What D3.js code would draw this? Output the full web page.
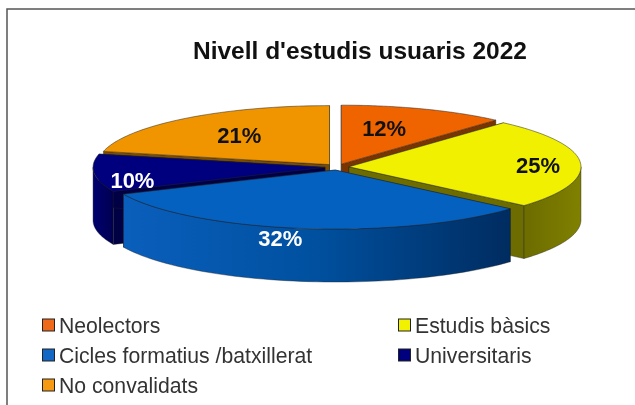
<!DOCTYPE html>
<html>
<head>
<meta charset="utf-8">
<script src="https://d3js.org/d3.v7.min.js"></script>
<style>
	html, body { margin: 0; padding: 0; background: #fff; }
	svg { display: block; filter: blur(0.4px); }
	text { font-family: "Liberation Sans", Arial, sans-serif; }
</style>
</head>
<body>
<div id="chart-area"></div>
<script>
var categories = ["Neolectors", "Estudis bàsics", "Cicles formatius /batxillerat", "Universitaris", "No convalidats"];
// slice shares as they measure on the picture, the printed labels are rounded
var values = [11.6, 24.8, 31.9, 10.3, 21.4];
var labels = ["12%", "25%", "32%", "10%", "21%"];
var title = "Nivell d'estudis usuaris 2022";

var topColors = ["#f06400", "#f0f000", "#0561c0", "#00007e", "#f09400"];
var wallColors = ["#7a3400", "#6c6c00", "#002f68", "#000044", "#7a4c00"];
var labelColors = ["#111", "#111", "#fff", "#fff", "#111"];
var swatchColors = ["#ee6a1a", "#f2f200", "#1268c4", "#00007e", "#f59a12"];
// label nudge from the slice centroid
var labelNudge = [[-15, 3], [27, 1], [-31, 27], [-31, 9], [11, 3]];

var svg = d3.select("#chart-area").append("svg")
	.attr("width", 635)
	.attr("height", 405);

// chart frame, only top and left show
svg.append("path")
	.attr("d", d3.line()([[7, 405], [7, 9], [635, 9]]))
	.attr("fill", "none")
	.attr("stroke", "#555")
	.attr("stroke-width", 1.5);

svg.append("text")
	.attr("x", 360)
	.attr("y", 59)
	.attr("text-anchor", "middle")
	.attr("font-size", 24.5)
	.attr("font-weight", "bold")
	.attr("fill", "#111")
	.text(title);

var cx = 337, cy = 167;
var rx = 232, ry = 59;
var depth = 53;
var explode = 12;

var defs = svg.append("defs");
function sideGradient(id, stops) {
	var g = defs.append("linearGradient").attr("id", id);
	stops.forEach((s) => {
		g.append("stop").attr("offset", s[0]).attr("stop-color", s[1]);
	});
}
sideGradient("side-blue", [[0, "#0a5fbc"], [0.5, "#00509f"], [1, "#002c60"]]);
sideGradient("side-navy", [[0, "#000070"], [1, "#000050"]]);
sideGradient("side-yellow", [[0, "#6c6c00"], [1, "#808000"]]);
var sideFill = ["#7a3400", "url(#side-yellow)", "url(#side-blue)", "url(#side-navy)", "#7a4c00"];

var pie = d3.pie().sort(null)(values);

var slices = pie.map((p, i) => {
	var mid = (p.startAngle + p.endAngle) / 2;
	return {
		i: i,
		start: p.startAngle,
		end: p.endAngle,
		mid: mid,
		x: cx + explode * Math.sin(mid),
		y: cy - explode * Math.cos(mid) * ry / rx
	};
});

function point(s, a, dy) {
	return [s.x + rx * Math.sin(a), s.y - ry * Math.cos(a) + (dy || 0)];
}

// outer edge as a list of points between two angles
function edge(s, a0, a1, dy) {
	return d3.range(0, 61).map((k) => point(s, a0 + (a1 - a0) * k / 60, dy));
}

var line = d3.line();

// back slices first, the ones in front paint over them
var order = [4, 0, 3, 1, 2];

order.forEach((i) => {
	var s = slices[i];
	var g = svg.append("g");

	// flat cut walls
	[s.start, s.end].forEach((a) => {
		var p = point(s, a);
		g.append("path")
			.attr("d", line([[s.x, s.y], p, [p[0], p[1] + depth], [s.x, s.y + depth]]) + "Z")
			.attr("fill", wallColors[i])
			.attr("stroke", "#222")
			.attr("stroke-width", 0.4);
	});

	// curved front wall
	var a0 = Math.max(s.start, Math.PI / 2);
	var a1 = Math.min(s.end, Math.PI * 3 / 2);
	if (a1 > a0) {
		var pts = edge(s, a0, a1, 0).concat(edge(s, a1, a0, depth));
		g.append("path")
			.attr("d", line(pts) + "Z")
			.attr("fill", sideFill[i])
			.attr("stroke", "#222")
			.attr("stroke-width", 0.4);
	}

	// top face
	var top = [[s.x, s.y]].concat(edge(s, s.start, s.end, 0));
	g.append("path")
		.attr("d", line(top) + "Z")
		.attr("fill", topColors[i])
		.attr("stroke", "#222")
		.attr("stroke-width", 0.5);
});

// percent labels
slices.forEach((s) => {
	var c = point({ x: s.x, y: s.y }, s.mid);
	var lx = s.x + (c[0] - s.x) * 0.7 + labelNudge[s.i][0];
	var ly = s.y + (c[1] - s.y) * 0.7 + labelNudge[s.i][1];
	svg.append("text")
		.attr("x", lx)
		.attr("y", ly)
		.attr("dy", "0.35em")
		.attr("text-anchor", "middle")
		.attr("font-size", 22)
		.attr("font-weight", "bold")
		.attr("fill", labelColors[s.i])
		.text(labels[s.i]);
});

// legend, two columns filled row by row
var legendX = d3.scaleBand().domain([0, 1]).range([42, 754]);
var legendY = d3.scalePoint().domain([0, 1, 2]).range([325, 385]);

var legend = svg.selectAll(".legend")
	.data(categories)
	.enter().append("g")
	.attr("class", "legend")
	.attr("transform", (d, i) => "translate(" + legendX(i % 2) + "," + legendY(Math.floor(i / 2)) + ")");

legend.append("rect")
	.attr("x", 0.5)
	.attr("y", -6)
	.attr("width", 12)
	.attr("height", 12)
	.attr("fill", (d, i) => swatchColors[i])
	.attr("stroke", "#222")
	.attr("stroke-width", 1);

legend.append("text")
	.attr("x", 17)
	.attr("y", 0)
	.attr("dy", "0.36em")
	.attr("font-size", 21.2)
	.attr("fill", "#333")
	.text((d) => d);
</script>
</body>
</html>
